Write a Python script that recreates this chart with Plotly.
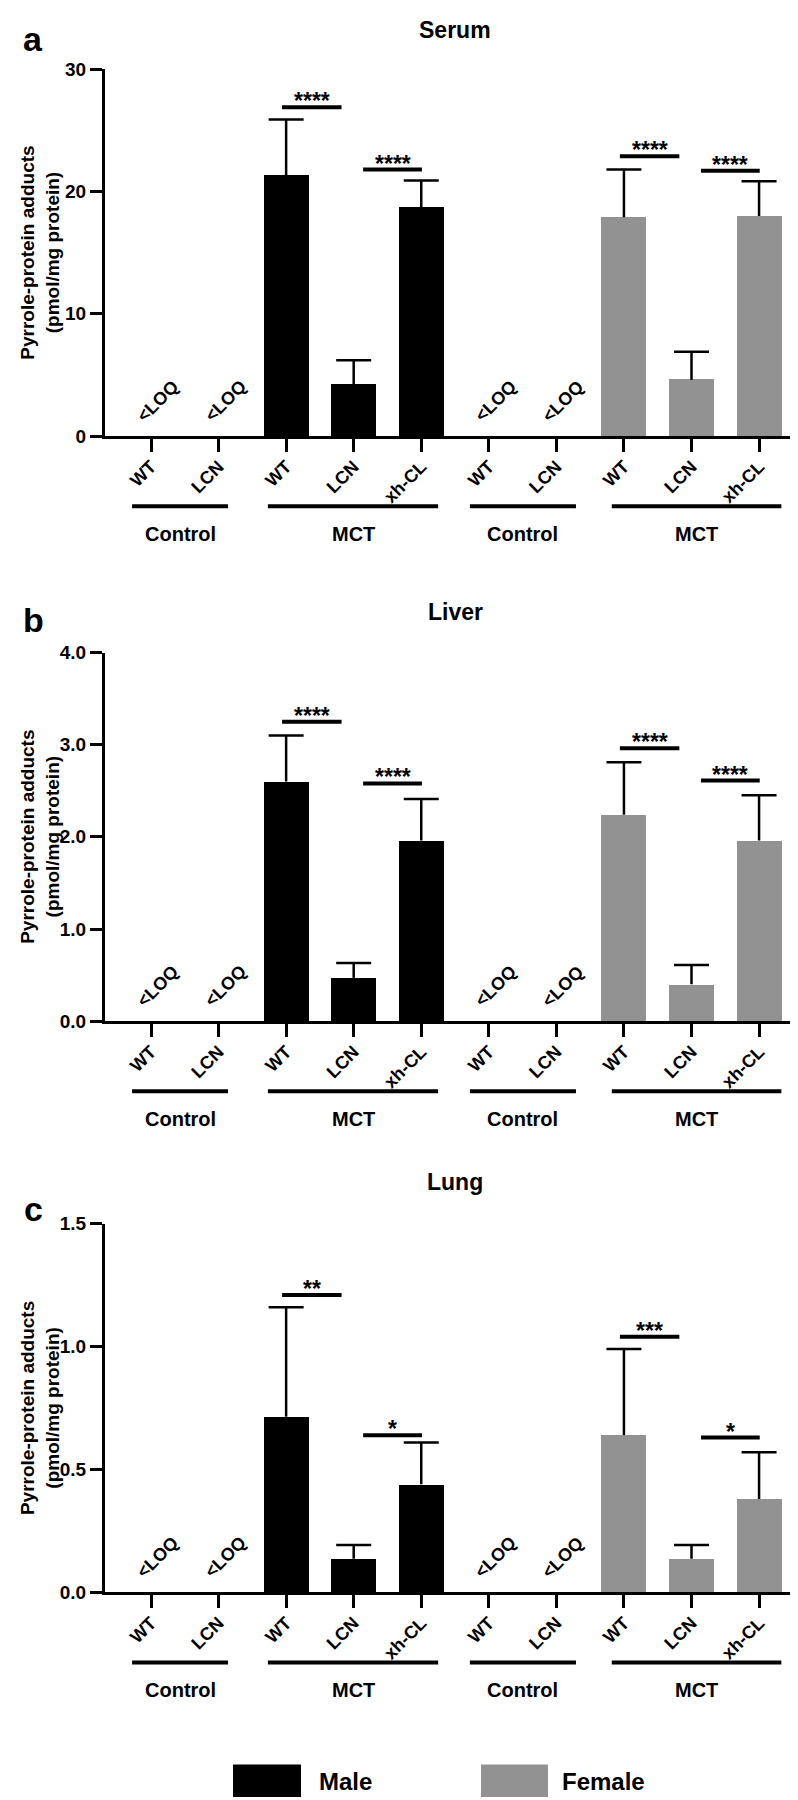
import plotly.graph_objects as go

# ---------------- data ----------------
categories = ["WT", "LCN", "WT", "LCN", "xh-CL", "WT", "LCN", "WT", "LCN", "xh-CL"]
group_names = ["Control", "MCT", "Control", "MCT"]
male_x = [0, 1, 2, 3, 4]
female_x = [5, 6, 7, 8, 9]
loq_x = [0, 1, 5, 6]
loq_text = "&lt;LOQ"

serum_male = [None, None, 21.3, 4.2, 18.75]
serum_male_err = [None, None, 4.6, 2.0, 2.15]
serum_female = [None, None, 17.9, 4.6, 18.0]
serum_female_err = [None, None, 3.9, 2.3, 2.85]
serum_ticks = [0, 10, 20, 30]
serum_sig = [(2, 3, "****", 26.9), (3, 4, "****", 21.8), (7, 8, "****", 22.9), (8, 9, "****", 21.7)]

liver_male = [None, None, 2.60, 0.47, 1.96]
liver_male_err = [None, None, 0.50, 0.16, 0.45]
liver_female = [None, None, 2.24, 0.40, 1.96]
liver_female_err = [None, None, 0.57, 0.21, 0.49]
liver_ticks = [0.0, 1.0, 2.0, 3.0, 4.0]
liver_sig = [(2, 3, "****", 3.25), (3, 4, "****", 2.58), (7, 8, "****", 2.96), (8, 9, "****", 2.61)]

lung_male = [None, None, 0.715, 0.137, 0.44]
lung_male_err = [None, None, 0.445, 0.056, 0.17]
lung_female = [None, None, 0.64, 0.137, 0.38]
lung_female_err = [None, None, 0.35, 0.056, 0.19]
lung_ticks = [0.0, 0.5, 1.0, 1.5]
lung_sig = [(2, 3, "**", 1.21), (3, 4, "*", 0.64), (7, 8, "***", 1.04), (8, 9, "*", 0.63)]

y_title = "Pyrrole-protein adducts<br>(pmol/mg protein)"

# ---------------- style / layout ----------------
W, H = 798, 1800
FONT = "Liberation Sans, Arial, sans-serif"
BLACK = "#000000"
GREY = "#929292"
BAR_W = 0.665
X_RANGE = [-0.681, 9.68]
X_DOM = [97 / W, 797 / W]
SIG_OFF = {0: (-0.06, -0.18), 1: (0.14, 0.01)}
GROUP_SPAN = [(-0.28, 1.14), (1.73, 4.25), (4.72, 6.29), (6.82, 9.33)]


def py(p):
    return 1 - p / H


panels = [
    dict(title="Serum", letter="a", male=serum_male, male_err=serum_male_err,
         female=serum_female, female_err=serum_female_err, ticks=serum_ticks,
         fmt="d", sig=serum_sig, top=52, bottom=423, title_y=12, letter_y=21),
    dict(title="Liver", letter="b", male=liver_male, male_err=liver_male_err,
         female=liver_female, female_err=liver_female_err, ticks=liver_ticks,
         fmt=".1f", sig=liver_sig, top=642, bottom=1015, title_y=601, letter_y=609),
    dict(title="Lung", letter="c", male=lung_male, male_err=lung_male_err,
         female=lung_female, female_err=lung_female_err, ticks=lung_ticks,
         fmt=".1f", sig=lung_sig, top=1220, bottom=1593, title_y=1178, letter_y=1205),
]

fig = go.Figure()
shapes = []
annotations = []
layout_axes = {}

for k, p in enumerate(panels):
    n = "" if k == 0 else str(k + 1)
    xa, ya = "x" + n, "y" + n
    for xs, vals, col, nm in [(male_x, p["male"], BLACK, "Male"), (female_x, p["female"], GREY, "Female")]:
        fig.add_trace(go.Bar(x=xs, y=vals, width=BAR_W, marker=dict(color=col, line=dict(width=0)),
                             name=nm, showlegend=False, xaxis=xa, yaxis=ya))
    ex, ey, ee = [], [], []
    for xs, vals, errs in [(male_x, p["male"], p["male_err"]), (female_x, p["female"], p["female_err"])]:
        for xi, v, e in zip(xs, vals, errs):
            if v is not None:
                ex.append(xi)
                ey.append(v + e)
                ee.append(e)
    fig.add_trace(go.Scatter(
        x=ex, y=ey, mode="markers",
        marker=dict(symbol="line-ew", size=25, color=BLACK, line=dict(width=2.5, color=BLACK)),
        error_y=dict(type="data", symmetric=False, array=[0] * len(ee), arrayminus=ee,
                     width=0, thickness=2.5, color=BLACK),
        showlegend=False, hoverinfo="skip", xaxis=xa, yaxis=ya))

    ymax = p["ticks"][-1]
    layout_axes["xaxis" + n] = dict(
        domain=X_DOM, range=X_RANGE, anchor=ya, tickmode="array", tickvals=list(range(len(categories))),
        ticktext=categories, tickangle=-45, ticks="outside", ticklen=13, tickwidth=3,
        tickcolor=BLACK, showline=True, linewidth=3, linecolor=BLACK, showgrid=False,
        zeroline=False, ticklabelstandoff=-3,
        tickfont=dict(family=FONT, size=18, color=BLACK, weight="bold"))
    layout_axes["yaxis" + n] = dict(
        domain=[py(p["bottom"]), py(p["top"])], range=[0, ymax], anchor=xa,
        tickmode="array", tickvals=p["ticks"], tickformat=p["fmt"], ticks="outside",
        ticklen=12, tickwidth=3, tickcolor=BLACK, showline=True, linewidth=3, linecolor=BLACK,
        showgrid=False, zeroline=False, tickfont=dict(family=FONT, size=19, color=BLACK, weight="bold"))

    for j, (a, b, stars, h) in enumerate(p["sig"]):
        o0, o1 = SIG_OFF[j % 2]
        x0, x1 = a + o0, b + o1
        shapes.append(dict(type="line", xref=xa, yref=ya, x0=x0, x1=x1, y0=h, y1=h,
                           line=dict(color=BLACK, width=4)))
        annotations.append(dict(xref=xa, yref=ya, x=(x0 + x1) / 2, y=h, text=stars, showarrow=False,
                                xanchor="center", yanchor="bottom", yshift=-9,
                                font=dict(family=FONT, size=23, color=BLACK, weight="bold")))
    for xi in loq_x:
        annotations.append(dict(xref=xa, yref=ya, x=xi, y=0, text=loq_text, showarrow=False,
                                textangle=-45, xshift=7, yshift=35, xanchor="center", yanchor="middle",
                                font=dict(family=FONT, size=18, color=BLACK, weight="bold")))
    for (g0, g1), gname in zip(GROUP_SPAN, group_names):
        shapes.append(dict(type="line", xref=xa, yref="paper", x0=g0, x1=g1,
                           y0=py(p["bottom"] + 71), y1=py(p["bottom"] + 71),
                           line=dict(color=BLACK, width=4)))
        annotations.append(dict(xref=xa, yref="paper", x=(g0 + g1) / 2, y=py(p["bottom"] + 99),
                                text=gname, showarrow=False, xanchor="center", yanchor="middle",
                                font=dict(family=FONT, size=20, color=BLACK, weight="bold")))
    annotations.append(dict(xref="paper", yref="paper", x=447 / W, y=py(p["title_y"]), text=p["title"],
                            showarrow=False, xanchor="center", yanchor="middle",
                            font=dict(family=FONT, size=23, color=BLACK, weight="bold")))
    annotations.append(dict(xref="paper", yref="paper", x=25 / W, y=py(p["letter_y"]), text=p["letter"],
                            showarrow=False, xanchor="center", yanchor="middle",
                            font=dict(family=FONT, size=34, color=BLACK, weight="bold")))
    annotations.append(dict(xref="paper", yref="paper", x=32 / W, y=py((p["top"] + p["bottom"]) / 2),
                            text=y_title, showarrow=False, textangle=-90,
                            xanchor="center", yanchor="middle",
                            font=dict(family=FONT, size=19, color=BLACK, weight="bold")))

for x0, x1, col, lab, tx in [(225, 293, BLACK, "Male", 309), (473, 540, GREY, "Female", 552)]:
    shapes.append(dict(type="rect", xref="paper", yref="paper", x0=x0 / W, x1=x1 / W,
                       y0=py(1800), y1=py(1767), fillcolor=col, line=dict(width=0)))
    annotations.append(dict(xref="paper", yref="paper", x=tx / W, y=py(1784), text=lab,
                            showarrow=False, xanchor="left", yanchor="middle",
                            font=dict(family=FONT, size=24, color=BLACK, weight="bold")))

fig.update_layout(
    width=W, height=H, margin=dict(l=0, r=0, t=0, b=0),
    paper_bgcolor="white", plot_bgcolor="white", showlegend=False,
    font=dict(family=FONT, color=BLACK), shapes=shapes, annotations=annotations,
    bargap=0, **layout_axes)

fig.write_html("out.html")
